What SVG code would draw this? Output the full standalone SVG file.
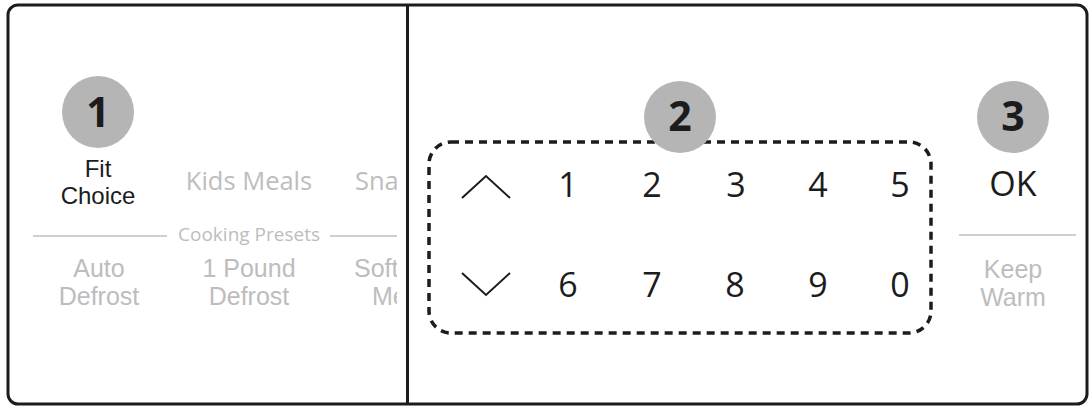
<svg xmlns="http://www.w3.org/2000/svg" width="1091" height="407" viewBox="0 0 1091 407">
<style>
.t{font-family:"Open Sans","Noto Sans",sans-serif;text-anchor:middle}
.l{font-family:"Open Sans","Noto Sans",sans-serif}
.m{font-family:"Liberation Sans",Arial,sans-serif;text-anchor:middle}
.ml{font-family:"Liberation Sans",Arial,sans-serif}
.blk{fill:#1c1c1c;font-size:24px}
.gry{fill:#bdbdbd;font-size:25.5px}
.gry2{fill:#bdbdbd;font-size:25px}
.dig{fill:#1c1c1c;font-size:34px}
.badge{fill:#b5b5b5}
.bn{fill:#1c1c1c;font-size:41px;font-weight:bold}
.sep{stroke:#cfcfcf;stroke-width:2}
.chev{fill:none;stroke:#1c1c1c;stroke-width:2}
</style>
<defs>
<clipPath id="leftclip"><rect x="10" y="8" width="387" height="395"/></clipPath>
</defs>
<rect x="8" y="5" width="1079" height="399" rx="10" fill="#fff" stroke="#1c1c1c" stroke-width="3"/>
<line x1="407.5" y1="5" x2="407.5" y2="404" stroke="#1c1c1c" stroke-width="3"/>
<g id="left-panel" clip-path="url(#leftclip)">
<g id="node-fit-choice">
<circle class="badge" cx="98" cy="112" r="36"/>
<text class="t bn" x="98" y="127">1</text>
<text class="m blk" x="98" y="177">Fit</text>
<text class="m blk" x="98" y="204">Choice</text>
</g>
<g id="node-kids-meals"><text class="t gry" x="249" y="190">Kids Meals</text></g>
<g id="node-snacks"><text class="l gry" x="355" y="190">Sna</text></g>
<g id="node-presets">
<line class="sep" x1="33" y1="236" x2="167" y2="236"/>
<text class="t" x="249" y="241" style="fill:#bdbdbd;font-size:19px">Cooking Presets</text>
<line class="sep" x1="330" y1="236" x2="397" y2="236"/>
</g>
<g id="node-auto-defrost">
<text class="m gry2" x="99" y="276.5">Auto</text>
<text class="m gry2" x="99" y="305">Defrost</text>
</g>
<g id="node-pound-defrost">
<text class="m gry2" x="249" y="276.5">1 Pound</text>
<text class="m gry2" x="249" y="305">Defrost</text>
</g>
<g id="node-soften">
<text class="ml gry2" x="354" y="276.5">Soft</text>
<text class="ml gry2" x="372" y="305">Me</text>
</g>
</g>
<g id="node-keypad">
<rect x="429" y="142" width="502" height="191" rx="22" fill="none" stroke="#1c1c1c" stroke-width="3.5" stroke-dasharray="8 6"/>
<polyline class="chev" points="462,198 486,176 510,198"/>
<polyline class="chev" points="462,273 486,295 510,273"/>
<text class="t dig" x="568" y="197">1</text>
<text class="t dig" x="652" y="197">2</text>
<text class="t dig" x="736" y="197">3</text>
<text class="t dig" x="818" y="197">4</text>
<text class="t dig" x="900" y="197">5</text>
<text class="t dig" x="568" y="297">6</text>
<text class="t dig" x="652" y="297">7</text>
<text class="t dig" x="735" y="297">8</text>
<text class="t dig" x="818" y="297">9</text>
<text class="t dig" x="900" y="297">0</text>
<circle class="badge" cx="680" cy="117" r="36"/>
<text class="t bn" x="680" y="131">2</text>
</g>
<g id="node-ok">
<circle class="badge" cx="1013" cy="117" r="36"/>
<text class="t bn" x="1013" y="131">3</text>
<text class="t dig" x="1013" y="196">OK</text>
<line class="sep" x1="959" y1="235" x2="1076" y2="235"/>
<text class="m gry2" x="1013" y="277.5">Keep</text>
<text class="m gry2" x="1013" y="306">Warm</text>
</g>
<g id="connectors"></g>
</svg>
